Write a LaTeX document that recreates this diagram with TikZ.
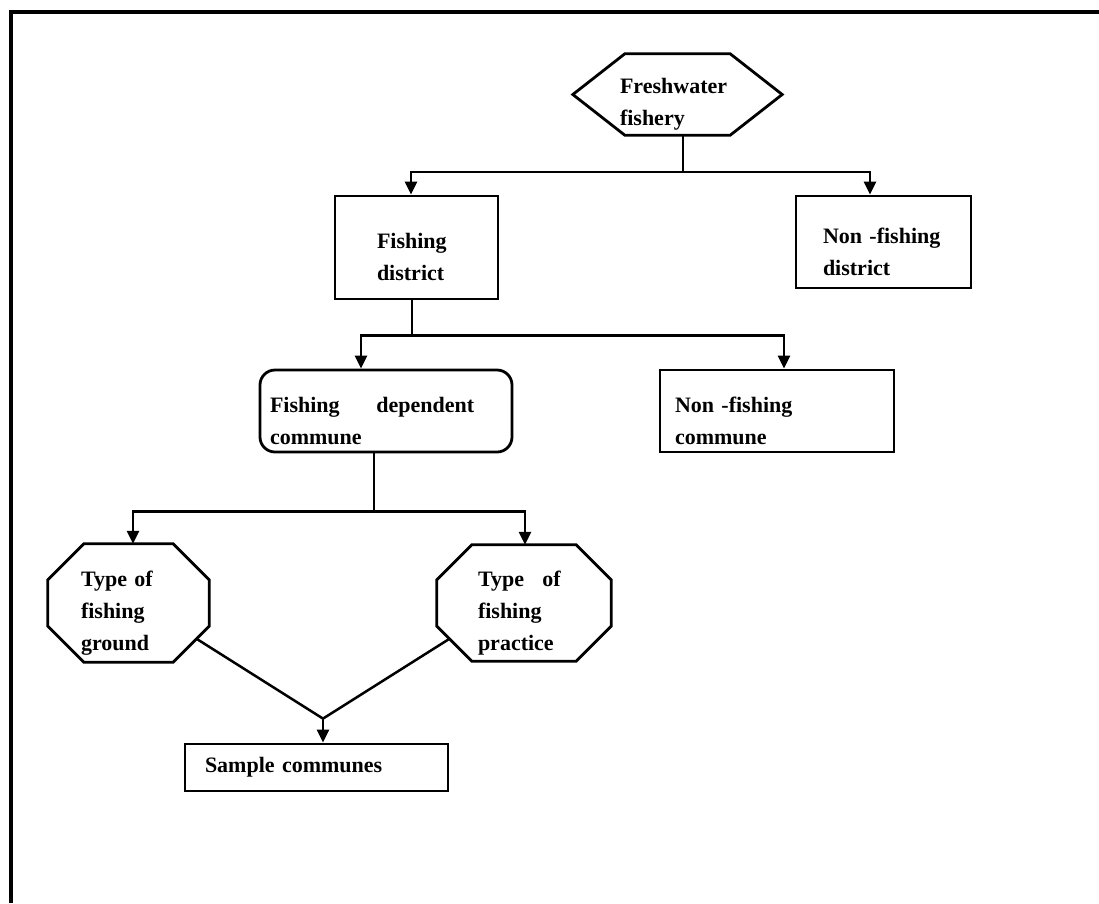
\documentclass[tikz,border=0pt]{standalone}
\usepackage{fontspec}
\setmainfont{Liberation Serif}
\usetikzlibrary{arrows.meta, calc}

\tikzset{
  boxtext/.style={font=\fontsize{22}{32}\selectfont\bfseries, align=left, inner ysep=2pt},
  lowtext/.style={text height=35pt},
  outline/.style={line width=2.8pt, line join=miter},
  conn/.style={line width=2.5pt},
  arr/.style={-{Triangle[length=13pt,width=12pt]}},
}

% octagon drawn round a (plain) rectangle node: #1 node, #2 corner cut
\newcommand{\octoutline}[2]{%
\draw[outline] ($(#1.north west)+(#2,0)$) -- ($(#1.north east)+(-#2,0)$)
  -- ($(#1.north east)+(0,#2)$) -- ($(#1.south east)+(0,-#2)$)
  -- ($(#1.south east)+(-#2,0)$) -- ($(#1.south west)+(#2,0)$)
  -- ($(#1.south west)+(0,-#2)$) -- ($(#1.north west)+(0,#2)$) -- cycle;}

\begin{document}
\begin{tikzpicture}[x=1pt,y=-1pt]
\useasboundingbox (0,0) rectangle (1099,903);

%frame
\draw[line width=3.2pt] (11,903) -- (11,12) -- (1099,12);

%top level
\node[boxtext, lowtext, text width=115pt, inner xsep=47pt, minimum height=81pt] (hex) at (677.5,94.5) {Freshwater\\fishery};
\draw[outline] ($(hex.north west)+(52,0)$) -- ($(hex.north east)+(-52,0)$) -- (hex.east)
  -- ($(hex.south east)+(-52,0)$) -- ($(hex.south west)+(52,0)$) -- (hex.west) -- cycle;

%districts
\node[boxtext, lowtext, draw, outline, text width=79pt, inner xsep=42pt, minimum height=103pt] (fdist) at (416.5,247.5) {Fishing\\district};
\node[boxtext, lowtext, draw, outline, text width=121pt, inner xsep=27pt, minimum height=92pt] (nfdist) at (883.5,242) {Non -fishing\\district};

%communes
\node[boxtext, lowtext, draw, outline, rounded corners=15pt, text width=232pt, inner xsep=10pt, minimum height=82pt] (fdc) at (386,411) {Fishing \quad{} dependent\\commune};
\node[boxtext, lowtext, draw, outline, text width=204pt, inner xsep=15pt, minimum height=82pt] (nfc) at (777,411) {Non -fishing\\commune};

%types
\node[boxtext, lowtext, text width=95pt, inner xsep=33pt, minimum height=118pt] (tground) at (128.5,603) {Type of\\fishing\\ground};
\octoutline{tground}{36}
\node[boxtext, lowtext, text width=92pt, inner xsep=41pt, minimum height=116pt] (tpractice) at (524,603) {Type \enspace of\\fishing\\practice};
\octoutline{tpractice}{35}

%result
\node[boxtext, draw, outline, text width=223pt, inner xsep=20pt, minimum height=47pt] (sample) at (316.5,767.5) {Sample communes};

%connectors
\coordinate (j1) at ($(hex.south)+(5.5,37)$);
\draw[conn] ($(hex.south)+(5.5,0)$) -- (j1);
\draw[conn,arr] (j1) -| ($(fdist.north)+(-5.5,0)$);
\draw[conn,arr] (j1) -| ($(nfdist.north)+(-13.5,0)$);

\coordinate (j2) at ($(fdist.south)+(-4.5,35)$);
\draw[conn] ($(fdist.south)+(-4.5,0)$) -- (j2);
\draw[conn,arr] (j2) -| ($(fdc.north)+(-25,0)$);
\draw[conn,arr] (j2) -| ($(nfc.north)+(7,0)$);

\coordinate (j3) at ($(fdc.south)+(-12,58)$);
\draw[conn] ($(fdc.south)+(-12,0)$) -- (j3);
\draw[conn,arr] (j3) -| ($(tground.north)+(4.5,0)$);
\draw[conn,arr] (j3) -| ($(tpractice.north)+(1,0)$);

\coordinate (v) at ($(sample.north)+(6.5,-24)$);
\draw[conn] ($(tground.south east)+(-12,-23)$) -- (v) -- ($(tpractice.south west)+(12,-22)$);
\draw[conn,arr] (v) -- ($(sample.north)+(6.5,0)$);
\end{tikzpicture}
\end{document}
